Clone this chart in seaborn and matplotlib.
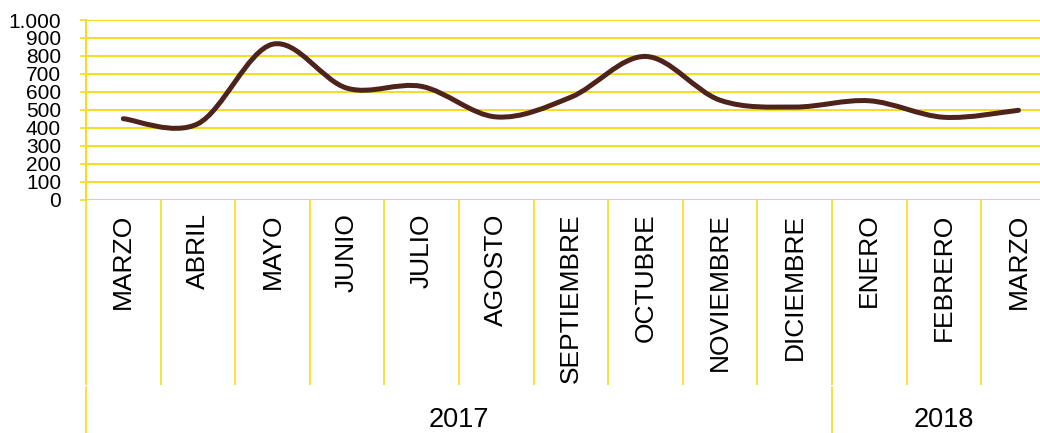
import numpy as np
import seaborn as sns
import matplotlib
matplotlib.use('Agg')
import matplotlib.pyplot as plt
from matplotlib.path import Path
from matplotlib.patches import PathPatch
from matplotlib.ticker import FuncFormatter
from matplotlib.transforms import blended_transform_factory

# data
months = ["MARZO", "ABRIL", "MAYO", "JUNIO", "JULIO", "AGOSTO", "SEPTIEMBRE",
          "OCTUBRE", "NOVIEMBRE", "DICIEMBRE", "ENERO", "FEBRERO", "MARZO"]
values = [450, 422, 865, 620, 630, 460, 570, 797, 553, 515, 550, 458, 497]
years = ["2017", "2018"]
year_counts = [10, 3]

YELLOW = "#F3DE1E"
BROWN = "#4E241A"

sns.set_theme(style="white")
plt.rcParams['font.family'] = ['Liberation Sans', 'DejaVu Sans']
plt.rcParams['text.color'] = 'black'

fig = plt.figure(figsize=(10.4, 4.33), dpi=100)
ax = fig.add_axes([86 / 1040, 1 - 199.5 / 433, (1040 - 86) / 1040, 179.5 / 433])

x = np.arange(len(values))
y = np.array(values, dtype=float)

# smooth curve (catmull-rom style bezier, like a spreadsheet "smoothed line")
verts = [(x[0], y[0])]
codes = [Path.MOVETO]
n = len(x)
for i in range(n - 1):
    p0 = np.array([x[max(i - 1, 0)], y[max(i - 1, 0)]])
    p1 = np.array([x[i], y[i]])
    p2 = np.array([x[i + 1], y[i + 1]])
    p3 = np.array([x[min(i + 2, n - 1)], y[min(i + 2, n - 1)]])
    c1 = p1 + (p2 - p0) / 6
    c2 = p2 - (p3 - p1) / 6
    verts += [tuple(c1), tuple(c2), tuple(p2)]
    codes += [Path.CURVE4] * 3
ax.add_patch(PathPatch(Path(verts, codes), facecolor="none", edgecolor=BROWN,
                       lw=3.6, capstyle="round", joinstyle="round", zorder=3))

# gridlines
ax.set_yticks(np.arange(0, 1001, 100))
ax.grid(axis="y", color=YELLOW, lw=1.4)
ax.grid(axis="x", visible=False)
ax.yaxis.set_major_formatter(FuncFormatter(lambda v, p: f"{int(v):,}".replace(",", ".")))
ax.tick_params(axis="y", length=4.5, width=1.2, color=YELLOW, pad=13.5,
               labelsize=15, labelcolor="black", left=True)

# month labels between category separators
ax.set_xticks(x)
ax.set_xticklabels(months, rotation=90, va="top", fontsize=19)
ax.tick_params(axis="x", which="major", length=0, pad=10, labelcolor="black")
ax.set_xticks(np.arange(-0.5, len(months), 1), minor=True)
ax.tick_params(axis="x", which="minor", length=133, width=1.2, color=YELLOW,
               direction="out", bottom=True)

for side in ["top", "right", "bottom"]:
    ax.spines[side].set_visible(False)
ax.spines["left"].set_color(YELLOW)
ax.spines["left"].set_linewidth(1.4)

# year grouping row
tr = blended_transform_factory(ax.transData, fig.transFigure)
start = -0.5
bounds = [start]
for yr, cnt in zip(years, year_counts):
    end = start + cnt
    ax.text((start + end) / 2, 1 - 420 / 433, yr, transform=tr, ha="center",
            va="center", fontsize=19.5, color="black")
    start = end
    bounds.append(end)
for b in bounds[:-1]:
    ax.plot([b, b], [0, 1 - 387 / 433], transform=tr, color=YELLOW, lw=1.2,
            clip_on=False)

ax.set_xlim(-0.5, (1040 - 86) / 74.6 - 0.5)
ax.set_ylim(0, 1000)

fig.savefig("out.png", dpi=100)
